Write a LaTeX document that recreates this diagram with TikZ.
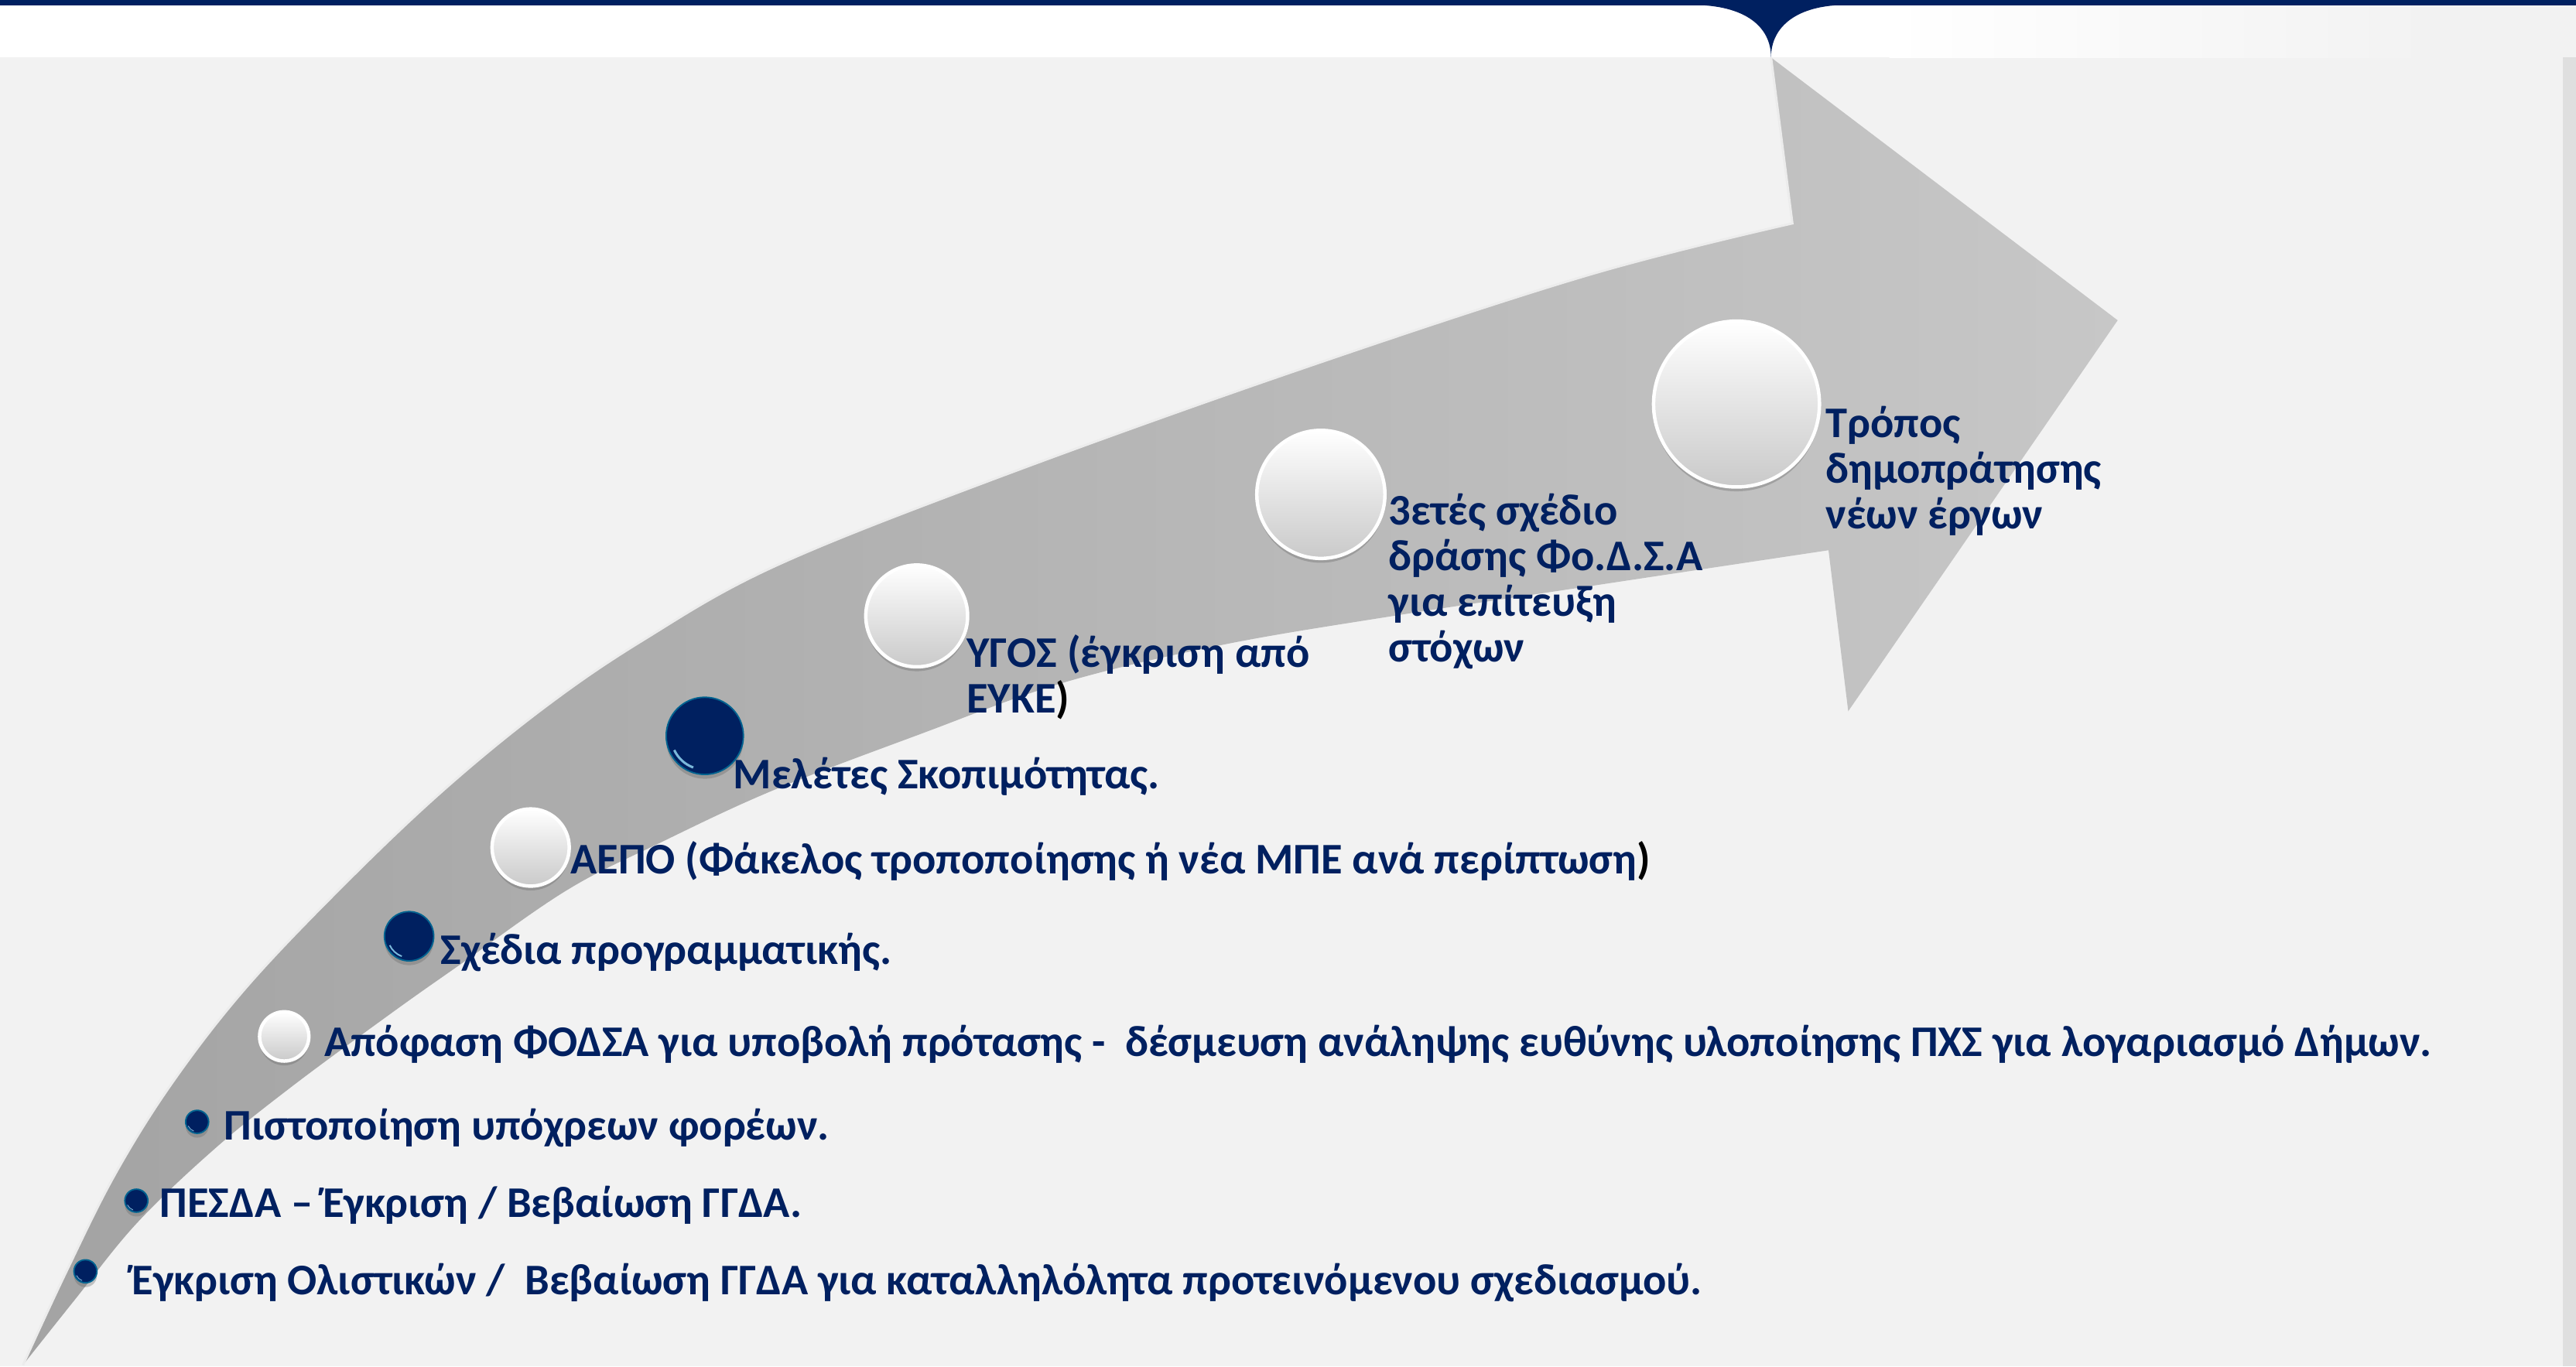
\documentclass[tikz,border=0pt]{standalone}
\usepackage{fontspec}
\setmainfont{Carlito}
\usetikzlibrary{shadows}
\definecolor{navy}{HTML}{002060}
\definecolor{bggray}{HTML}{F2F2F2}
\tikzset{
  lbl/.style={anchor=base west, inner sep=0pt, text=navy, align=left,
    font=\bfseries\fontsize{15.15}{15.8}\selectfont},
  whiteball/.style={circle, inner sep=0pt, draw=white, line width=1.2pt,
    top color=white, bottom color=gray!42,
    drop shadow={shadow xshift=0pt, shadow yshift=-1.5pt, opacity=.35, fill=black!60}},
  navyball/.style={circle, inner sep=0pt, fill=navy, draw=navy!70!cyan, line width=.5pt,
    drop shadow={shadow xshift=0pt, shadow yshift=-1.5pt, opacity=.35, fill=black!60}}
}
\begin{document}
\begin{tikzpicture}[x=0.02cm,y=-0.02cm]
\useasboundingbox (0,0) rectangle (1568,832);
% background and top band
\fill[bggray] (0,0) rectangle (1568,832);
\fill[white] (0,3) rectangle (1150,35);
\shade[left color=white, right color=bggray] (1150,3) rectangle (1480,35);
\fill[gray!25] (1560,35) rectangle (1568,832);
\fill[navy] (0,0) rectangle (1568,3.3);
\fill[navy] (1030,3) .. controls (1062,3) and (1078,16) .. (1078,35)
  .. controls (1078,16) and (1094,3) .. (1124,3) -- cycle;
% curved arrow
\shade[left color=gray!72, right color=gray!44]
  plot[smooth, tension=.6] coordinates {(14,831) (40,775) (70,715) (105,659)
    (150,601) (210,538) (270,481) (331,431) (391,390) (471,345) (604,292)
    (785,227) (965,168) (1091,136)}
  -- (1078,35) -- (1289,195) -- (1125,433) -- (1113,335)
  -- plot[smooth, tension=.6] coordinates {(1113,335) (980,355) (848,375)
    (742,393) (646,416) (560,447) (471,481) (402,513) (345,542) (279,588)
    (238,617) (177,662) (130,700) (83,745) (45,792) (14,831)} -- cycle;
\draw[white!85!gray, line width=.8pt]
  plot[smooth, tension=.6] coordinates {(14,831) (40,775) (70,715) (105,659)
    (150,601) (210,538) (270,481) (331,431) (391,390) (471,345) (604,292)
    (785,227) (965,168) (1091,136)} -- (1078,35);
% bullets
\node[navyball, minimum size=.28cm] (b1) at (52,774) {};
\node[navyball, minimum size=.28cm] (b2) at (83,731) {};
\node[navyball, minimum size=.28cm] (b3) at (120,683) {};
\node[whiteball, minimum size=.6cm] (b4) at (173,631) {};
\node[navyball, minimum size=.6cm] (b5) at (249,570) {};
\node[whiteball, minimum size=.94cm] (b6) at (323,516) {};
\node[navyball, minimum size=.94cm] (b7) at (429,448) {};
\node[whiteball, minimum size=1.24cm] (b8) at (558,375) {};
\node[whiteball, minimum size=1.56cm] (b9) at (804,301) {};
\node[whiteball, minimum size=2.02cm] (b10) at (1057,246) {};
% gloss on the dark bullets
\foreach \n/\r in {b1/.12, b2/.12, b3/.12, b5/.26, b7/.41}
  \draw[cyan!40!white, line width=\r*2pt, opacity=.8]
    (\n.center) ++(205:\r cm) arc[start angle=205, end angle=250, radius=\r cm];
% labels
\node[lbl] (l1) at (80,788) {Έγκριση Ολιστικών /~ Βεβαίωση ΓΓΔΑ για καταλληλόλητα προτεινόμενου σχεδιασμού.};
\node[lbl] (l2) at (97,741) {ΠΕΣΔΑ – Έγκριση / Βεβαίωση ΓΓΔΑ.};
\node[lbl] (l3) at (136,694) {Πιστοποίηση υπόχρεων φορέων.};
\node[lbl] (l4) at (197,643) {Απόφαση ΦΟΔΣΑ για υποβολή πρότασης -~ δέσμευση ανάληψης ευθύνης υλοποίησης ΠΧΣ για λογαριασμό Δήμων.};
\node[lbl] (l5) at (268,587) {Σχέδια προγραμματικής.};
\node[lbl] (l6) at (347,532) {ΑΕΠΟ (Φάκελος τροποποίησης ή νέα ΜΠΕ ανά περίπτωση{\color{black})}};
\node[lbl] (l7) at (446,480) {Μελέτες Σκοπιμότητας.};
\node[lbl] (l8) at (588,434) {ΥΓΟΣ (έγκριση από\\ΕΥΚΕ{\color{black})}};
\node[lbl] (l9) at (845,403) {3ετές σχέδιο\\δράσης Φο.Δ.Σ.Α\\για επίτευξη\\στόχων};
\node[lbl] (l10) at (1111,322) {Τρόπος\\δημοπράτησης\\νέων έργων};
\end{tikzpicture}
\end{document}
